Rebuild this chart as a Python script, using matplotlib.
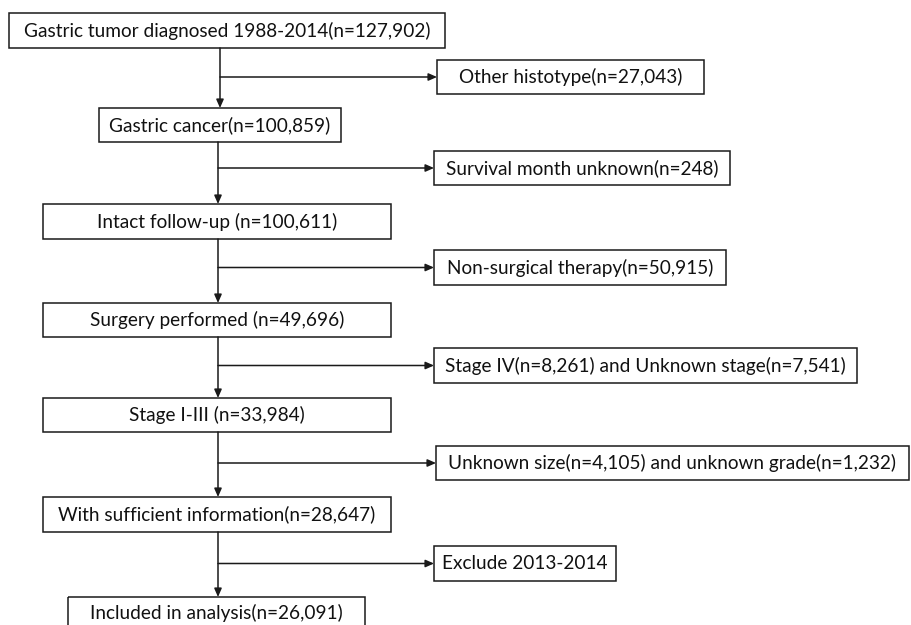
import matplotlib
matplotlib.use("Agg")
import matplotlib.pyplot as plt
from matplotlib.patches import Rectangle

# flow steps (main column) and exclusions (side column)
main_labels = [
    "Gastric tumor diagnosed 1988-2014(n=127,902)",
    "Gastric cancer(n=100,859)",
    "Intact follow-up (n=100,611)",
    "Surgery performed (n=49,696)",
    "Stage I-III (n=33,984)",
    "With sufficient information(n=28,647)",
    "Included in analysis(n=26,091)",
]
side_labels = [
    "Other histotype(n=27,043)",
    "Survival month unknown(n=248)",
    "Non-surgical therapy(n=50,915)",
    "Stage IV(n=8,261) and Unknown stage(n=7,541)",
    "Unknown size(n=4,105) and unknown grade(n=1,232)",
    "Exclude 2013-2014",
]

# layout in pixels (x0, x1, y0, y1), y grows downward
main_boxes = [
    (9, 445, 13, 48),
    (99, 341, 108, 142),
    (43, 391, 204, 239),
    (43, 391, 303, 337),
    (43, 391, 398, 432),
    (43, 391, 497, 532),
    (68, 365, 597, 640),
]
side_boxes = [
    (437, 704, 60, 94),
    (434, 730, 151, 185),
    (434, 726, 250, 285),
    (434, 857, 348, 383),
    (436, 909, 446, 480),
    (434, 616, 546, 581),
]
spine_x = [220, 218, 218, 218, 218, 218]

W, H = 911, 625
FONT = "Lato"
FS = 13.7
LW = 1.1

fig = plt.figure(figsize=(W / 100, H / 100), dpi=100)
ax = fig.add_axes([0, 0, 1, 1])
ax.set_xlim(0, W)
ax.set_ylim(H, 0)
ax.axis("off")


def box(b, text, ty=None):
    x0, x1, y0, y1 = b
    ax.add_patch(Rectangle((x0, y0), x1 - x0, y1 - y0, fill=False, ec="#1a1a1a", lw=LW))
    if ty is None:
        ty = (y0 + y1) / 2
    ax.text((x0 + x1) / 2, ty, text, ha="center", va="center", fontsize=FS,
            family=FONT, color="#111111")


def arrow(x0, y0, x1, y1):
    ax.annotate("", xy=(x1, y1), xytext=(x0, y0),
                arrowprops=dict(arrowstyle="-|>,head_length=0.5,head_width=0.22",
                                color="#1a1a1a", lw=LW, shrinkA=0, shrinkB=0))


for i, (b, t) in enumerate(zip(main_boxes, main_labels)):
    box(b, t, ty=613 if i == len(main_boxes) - 1 else None)

for i, (b, t) in enumerate(zip(side_boxes, side_labels)):
    box(b, t)
    x = spine_x[i]
    top = main_boxes[i][3]
    bot = main_boxes[i + 1][2]
    arrow(x, top, x, bot)
    by = (b[2] + b[3]) / 2
    arrow(x, by, b[0], by)

fig.savefig("out.png", dpi=100)
